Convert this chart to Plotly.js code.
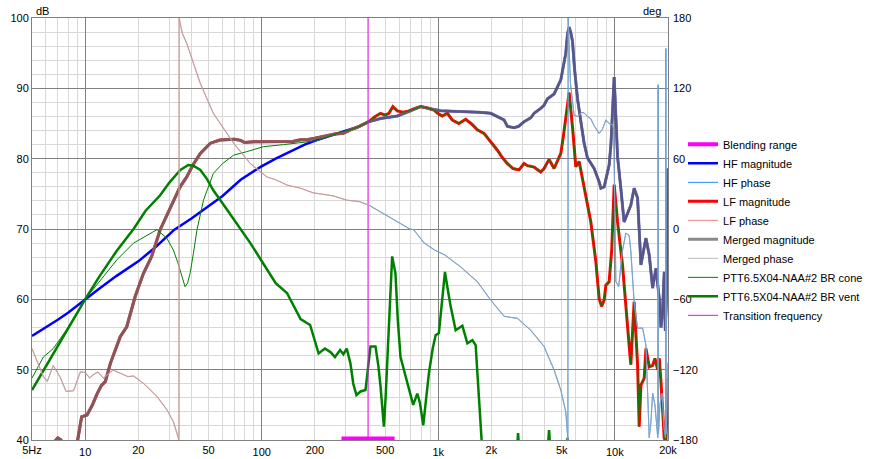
<!DOCTYPE html>
<html><head><meta charset="utf-8">
<script src="https://cdn.plot.ly/plotly-3.0.1.min.js"></script>
<style>html,body{margin:0;padding:0;background:#fff}#chart{width:874px;height:459px}</style>
</head><body><div id="chart"></div>
<script>
// ---------- data (Hz, dB, deg) ----------
const blendFreq = [283, 566];
const blendLevel = [40.2, 40.2];
const transFreq = [400, 400];
const transLevel = [40, 100];

const hfLowFreq = [5, 6, 7, 8, 10, 12, 15, 20, 25, 32, 40, 50, 60, 76, 98, 120, 146, 175, 205, 240, 270, 318, 350];
const hfLowMag  = [54.8, 56.0, 57.1, 58.1, 60.0, 61.5, 63.3, 65.4, 67.4, 69.9, 71.5, 73.2, 74.7, 77.0, 78.8, 80.0, 81.0, 82.0, 82.65, 83.2, 83.6, 84.1, 84.5];

const hfHighFreq = [404, 471, 586, 667, 794, 900, 1031, 1200, 1384, 1700, 1981, 2162, 2357, 2464, 2687, 2850, 3059, 3340, 3487, 3805, 3972, 4153, 4529, 4943, 5052, 5274, 5395, 5510, 5620, 5757, 5900, 6146, 6400, 6699, 7001, 7311, 7635, 8150, 8334, 8700, 9284, 9500, 9706, 9912, 10134, 10357, 10808, 11283, 11796, 12317, 12860, 13450, 14050, 14995, 15657, 16369, 17090, 17847, 18246, 18600, 19048, 19300, 19600, 19914, 20000];
const hfHighMag  = [85.26, 85.7, 86.07, 86.6, 87.4, 87.1, 86.8, 86.75, 86.7, 86.6, 86.45, 86.0, 85.5, 84.6, 84.4, 84.6, 85.25, 85.8, 86.45, 87.15, 87.6, 88.5, 89.2, 91.2, 92.4, 95.0, 97.8, 98.7, 98.0, 96.7, 93.0, 88.5, 85.5, 82.2, 80.1, 79.3, 78.6, 76.7, 75.8, 76.0, 79.1, 82.0, 87.0, 91.6, 86.0, 80.3, 75.8, 71.0, 72.2, 73.4, 75.8, 74.4, 64.9, 68.7, 66.3, 61.6, 64.4, 60.1, 56.0, 58.0, 63.9, 55.5, 60.0, 68.7, 78.6];

const bassFreq = [5, 6, 6.6, 7.0, 7.3, 7.8, 8.4, 8.8, 9.1, 9.55, 10.25, 11.0, 11.7, 12.4, 13.0, 13.9, 15.0, 15.8, 17.2, 18.2, 19.2, 21.4, 23.8, 26.6, 29, 31.6, 34.5, 37.6, 41, 44.9, 51.2, 58, 64, 70, 76, 80, 90, 107, 133, 150, 166, 180, 200, 224, 260, 290, 318, 350];
const bassMag  = [30, 36, 39.6, 40.3, 40.0, 37.5, 36.5, 38.5, 40.2, 43.3, 43.55, 45.0, 46.6, 47.8, 48.3, 50.9, 53.3, 54.7, 56.1, 58.2, 60.4, 63.7, 66.1, 69.9, 72.0, 74.1, 76.0, 77.4, 79.2, 80.75, 82.2, 82.65, 82.75, 82.75, 82.6, 82.3, 82.4, 82.45, 82.45, 82.45, 82.7, 82.7, 82.9, 83.2, 83.5, 83.6, 84.1, 84.5];

const lfHighFreq = [404, 440, 471, 500, 525, 553, 586, 630, 667, 730, 794, 870, 945, 1000, 1054, 1125, 1201, 1309, 1429, 1550, 1665, 1815, 2000, 2162, 2300, 2464, 2650, 2866, 3059, 3200, 3487, 3805, 3972, 4241, 4529, 4943, 5100, 5274, 5510, 5757, 6012, 6278, 6699, 7311, 7806, 8150, 8410, 8700, 8895, 9284, 9600, 9912, 10357, 11050, 12046, 12317, 12860, 13450, 13740, 14050, 14670, 15000, 15657, 16369, 16870, 17476, 17847, 18246, 19048, 19476, 19914, 20000];
const lfHighMag  = [85.26, 86.0, 86.45, 86.2, 86.45, 87.4, 86.8, 86.6, 86.7, 87.1, 87.4, 87.2, 86.9, 86.4, 86.07, 86.45, 85.5, 85.0, 85.6, 84.9, 84.1, 83.6, 82.3, 81.2, 80.2, 79.3, 78.6, 78.4, 79.3, 79.0, 78.8, 78.1, 78.6, 79.9, 78.6, 80.75, 83.0, 85.5, 89.4, 84.5, 78.85, 79.6, 76.0, 71.0, 65.35, 60.1, 59.0, 59.9, 62.0, 62.5, 67.0, 76.3, 71.0, 64.9, 53.5, 50.7, 59.65, 50.7, 41.9, 47.8, 48.8, 53.0, 50.4, 50.6, 51.6, 50.0, 51.6, 48.3, 40.2, 40.0, 47.3, 48.8];

const coneLowFreq = [5, 5.8, 6.6, 7.8, 10, 12.2, 15.1, 18.8, 23.3, 25.5, 29.0, 31.6, 33.5, 35.2, 36.8, 38, 39.3, 41, 43, 46.8, 53.2, 60, 69.3, 82.4, 102, 133, 166, 205, 250, 280, 318, 350];
const coneLowMag  = [48.8, 51.8, 53.0, 55.6, 60.0, 62.75, 65.6, 68.0, 69.4, 69.9, 68.7, 67.0, 65.2, 63.2, 61.8, 62.3, 63.7, 66.5, 69.9, 74.1, 77.9, 79.3, 80.5, 81.0, 81.7, 82.0, 82.3, 82.55, 83.3, 83.8, 84.1, 84.5];

const ventFreq = [5, 6, 7, 8, 10, 12, 15, 18.8, 22, 26.6, 30, 34.6, 38.4, 41, 44.9, 49, 53.2, 63.8, 75.7, 86.2, 102, 120, 139, 155, 166, 188, 200, 210, 228, 245, 260, 278, 290, 303, 318, 330, 344, 363, 387, 400, 413, 441, 458, 471, 492, 503, 514, 530, 548, 572, 590, 611, 667, 690, 721, 760, 787, 822, 850, 885, 930, 966, 1008, 1045, 1091, 1130, 1175, 1254, 1310, 1369, 1461, 1560, 1628, 1680, 1738, 1800, 2500, 2750, 2830, 2920, 4100, 4241, 4380, 5300, 5395, 5500, 10000, 20000];
const ventMag  = [47.1, 50.5, 53.4, 55.8, 60.0, 63.2, 66.8, 70.0, 72.6, 74.8, 76.6, 78.4, 79.1, 79.0, 78.4, 77.1, 75.5, 72.7, 70.0, 68.0, 65.1, 62.3, 60.9, 58.5, 57.2, 56.35, 54.0, 52.3, 53.0, 52.5, 51.8, 52.8, 52.2, 53.0, 50.9, 48.0, 46.4, 46.9, 47.1, 50.5, 53.3, 53.3, 50.5, 47.6, 41.9, 46.0, 50.9, 60.0, 66.1, 63.7, 57.0, 51.8, 48.05, 46.5, 45.0, 46.6, 45.3, 42.1, 45.5, 49.5, 53.0, 54.9, 55.2, 59.0, 63.9, 61.5, 59.0, 55.6, 55.9, 56.25, 53.75, 54.2, 53.5, 47.0, 40.0, 36, 32, 36, 41.0, 36, 36, 41.4, 36, 35, 40.3, 34, 30, 28];

const lfPhaseFreq = [5, 5.5, 5.8, 6.1, 6.6, 7.2, 7.8, 8.6, 9.4, 10, 10.6, 11.2, 11.8, 12.7, 13.5, 14.4, 15.8, 17.5, 18.8, 21.4, 25.5, 29, 31.6, 33.6, 34.0, 34.05, 35.5, 37.6, 44.9, 53.2, 69.3, 86.2, 107, 120, 139, 166, 195, 255, 303, 357, 404];
const lfPhaseDeg  = [-102, -118, -126, -130, -116.4, -126, -138.6, -138, -121.8, -122.4, -127, -124, -122, -127, -124, -120.3, -123, -126, -125.4, -131.7, -142.8, -154, -164.4, -178, -180, 180, 167, 158.4, 124.2, 98.7, 73.2, 55.8, 44.4, 42, 37.5, 34.8, 30.9, 28.2, 24.6, 23.4, 20.4];

const hfPhaseFreq = [404, 525, 690, 725, 833, 954, 1090, 1340, 1665, 1981, 2357, 2600, 2806, 3340, 3972, 4529, 4943, 5274, 5395, 5420, 5440, 5600, 5879, 6146, 6500, 6699, 7000, 7311, 7635, 8150, 8500, 8895, 9284, 9706, 9850, 9950, 10134, 10516, 11000, 11537, 12046, 12317, 12860, 13450, 14366, 14995, 15333, 15657, 16000, 16369, 16870, 17300, 17500, 17580, 17660, 18000, 18500, 19000, 19350, 19450, 19550, 20000];
const hfPhaseDeg  = [20.4, 10.5, 0, -0.6, -12, -18, -22.2, -32.4, -45, -60.6, -74.4, -75.5, -76.2, -86.4, -100.2, -120.3, -137.4, -156, -177, -180, 180, 125, 97, 96, 99.5, 99, 96, 94, 88, 81.6, 85, 93, 90, 89, 85, 20, -45, -49, -20, -3.6, -5.4, -19, -62, -84.6, -84.6, -99, -141.6, -178, -165, -140, -150, -170, -178, 123, -175, -150, -140, -170, -178, 154, -175, -114];

const xTickVals = [5, 20, 50, 200, 500, 2000, 5000, 20000];
const xTickText = ['5Hz', '20', '50', '200', '500', '2k', '5k', '20k'];
const xDecadeVals = [10, 100, 1000, 10000];
const xDecadeText = ['10', '100', '1k', '10k'];
const xMinorVals = [6, 7, 8, 9, 20, 30, 40, 50, 60, 70, 80, 90, 200, 300, 400, 500, 600, 700, 800, 900, 2000, 3000, 4000, 5000, 6000, 7000, 8000, 9000, 20000];
const phaseTicks = [-180, -120, -60, 0, 60, 120, 180];

// ---------- chart ----------
const font = {family: 'Liberation Sans, Arial, sans-serif', size: 11, color: '#000'};
const xr = [Math.log10(5), Math.log10(20000)];

const traces = [
  {name: 'Blending range', x: blendFreq, y: blendLevel, xaxis: 'x2', yaxis: 'y', mode: 'lines', line: {color: '#ff00ff', width: 4}},
  {name: 'HF magnitude', x: hfLowFreq.concat(hfHighFreq), y: hfLowMag.concat(hfHighMag), mode: 'lines', line: {color: '#0000ff', width: 2.5}},
  {name: 'HF phase', x: hfPhaseFreq, y: hfPhaseDeg, yaxis: 'y2', mode: 'lines', line: {color: '#1e90ff', width: 1}},
  {name: 'LF magnitude', x: bassFreq.concat(lfHighFreq), y: bassMag.concat(lfHighMag), mode: 'lines', line: {color: '#ff0000', width: 3}},
  {name: 'LF phase', x: lfPhaseFreq, y: lfPhaseDeg, yaxis: 'y2', mode: 'lines', line: {color: '#f08080', width: 1}},
  {name: 'Merged magnitude', x: bassFreq.concat(hfHighFreq), y: bassMag.concat(hfHighMag), mode: 'lines', line: {color: 'rgba(108,108,112,0.8)', width: 3}},
  {name: 'Merged phase', x: lfPhaseFreq.concat(hfPhaseFreq), y: lfPhaseDeg.concat(hfPhaseDeg), yaxis: 'y2', mode: 'lines', line: {color: 'rgba(170,170,170,0.65)', width: 1.2}},
  {name: 'PTT6.5X04-NAA#2 BR cone', x: coneLowFreq.concat(lfHighFreq), y: coneLowMag.concat(lfHighMag), mode: 'lines', line: {color: '#008000', width: 1}},
  {name: 'PTT6.5X04-NAA#2 BR vent', x: ventFreq, y: ventMag, mode: 'lines', line: {color: '#008000', width: 2.5}},
  {name: 'Transition frequency', x: transFreq, y: transLevel, mode: 'lines', line: {color: '#ff00ff', width: 1}}
];

const layout = {
  width: 874, height: 459,
  margin: {l: 32, r: 206, t: 18, b: 19, pad: 0, autoexpand: false},
  paper_bgcolor: '#ffffff', plot_bgcolor: '#ffffff',
  font: font,
  showlegend: true,
  legend: {x: 1.0236, xanchor: 'left', y: 0.735, yanchor: 'top', font: font, bgcolor: 'rgba(0,0,0,0)', borderwidth: 0, itemwidth: 30, tracegroupgap: 0},
  xaxis: {
    type: 'log', range: xr, tickmode: 'array', tickvals: xDecadeVals, ticktext: xDecadeText,
    showgrid: true, gridcolor: '#808080', gridwidth: 1, ticks: '', zeroline: false, ticklabelstandoff: 2,
    minor: {tickmode: 'array', tickvals: xMinorVals, showgrid: true, gridcolor: '#d9d9d9', gridwidth: 1, ticks: ''},
    showline: true, mirror: true, linecolor: '#808080', linewidth: 1, tickfont: font, fixedrange: true
  },
  xaxis2: {
    type: 'log', range: xr, overlaying: 'x', anchor: 'y', side: 'bottom', tickmode: 'array', ticklabelstandoff: 2,
    tickvals: xTickVals, ticktext: xTickText, showgrid: false, ticks: '', zeroline: false, showline: false, tickfont: font, fixedrange: true
  },
  yaxis: {
    range: [40, 100], tickmode: 'linear', tick0: 40, dtick: 10,
    showgrid: true, gridcolor: '#808080', gridwidth: 1, ticks: '', zeroline: false,
    minor: {tick0: 40, dtick: 2, showgrid: true, gridcolor: '#d9d9d9', gridwidth: 1, ticks: ''},
    showline: true, mirror: true, linecolor: '#808080', linewidth: 1, tickfont: font, fixedrange: true
  },
  yaxis2: {
    range: [-180, 180], overlaying: 'y', side: 'right', anchor: 'x', tickmode: 'array', tickvals: phaseTicks, ticklabelstandoff: 4,
    showgrid: false, zeroline: false, ticks: '', showline: false, tickfont: font, fixedrange: true
  },
  annotations: [
    {text: 'dB', xref: 'paper', yref: 'paper', x: 0, y: 1, xanchor: 'left', yanchor: 'bottom', xshift: 2, yshift: -1, showarrow: false, font: font},
    {text: 'deg', xref: 'paper', yref: 'paper', x: 1, y: 1, xanchor: 'right', yanchor: 'bottom', xshift: -5, yshift: -1, showarrow: false, font: font}
  ]
};

Plotly.newPlot('chart', traces, layout, {staticPlot: true, displayModeBar: false});
</script>
</body></html>
